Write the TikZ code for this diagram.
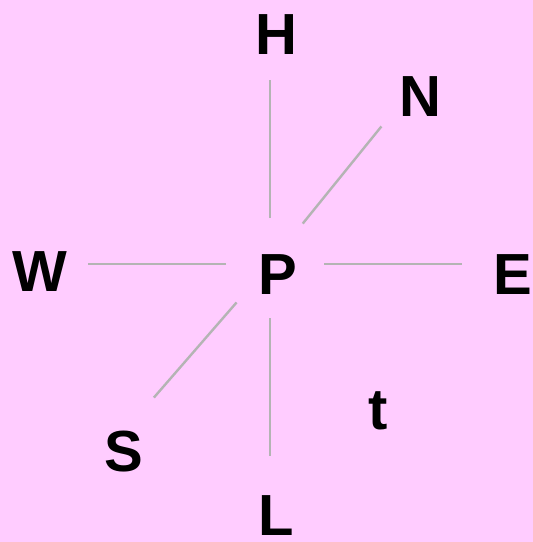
\documentclass[tikz,border=0pt]{standalone}
\usepackage{fontspec}
\setmainfont{Liberation Sans}
\usetikzlibrary{calc}
\definecolor{bgpink}{HTML}{FFCCFF}
\definecolor{spokegray}{HTML}{B4B4B4}

\begin{document}
\begin{tikzpicture}[x=1pt,y=-1pt,
  letter/.style={font=\fontsize{58}{60}\selectfont\bfseries,inner sep=0pt},
  spoke/.style={draw=spokegray,line width=2.4pt}]
\fill[bgpink] (0,0) rectangle (533,542);
\useasboundingbox (0,0) rectangle (533,542);

\node[letter] (H) at (276,35) {H};
\node[letter] (N) at (420,97) {N};
\node[letter] (W) at (40,272) {W};
\node[letter] (P) at (278,275) {P};
\node[letter] (E) at (513,275) {E};
\node[letter] (S) at (124,452) {S};
\node[letter] (L) at (276,516) {L};
\node[letter] (t) at (378,411) {t};

% spokes round P
\coordinate (hub) at (270,264);
\foreach \ang/\ra/\rb in {0/54/192, -51/52/177, -90/46/184, 180/44/182, 131/51/177, 90/54/192}
  \draw[spoke] ($(hub)+(\ang:\ra)$) -- ($(hub)+(\ang:\rb)$);
\end{tikzpicture}
\end{document}
